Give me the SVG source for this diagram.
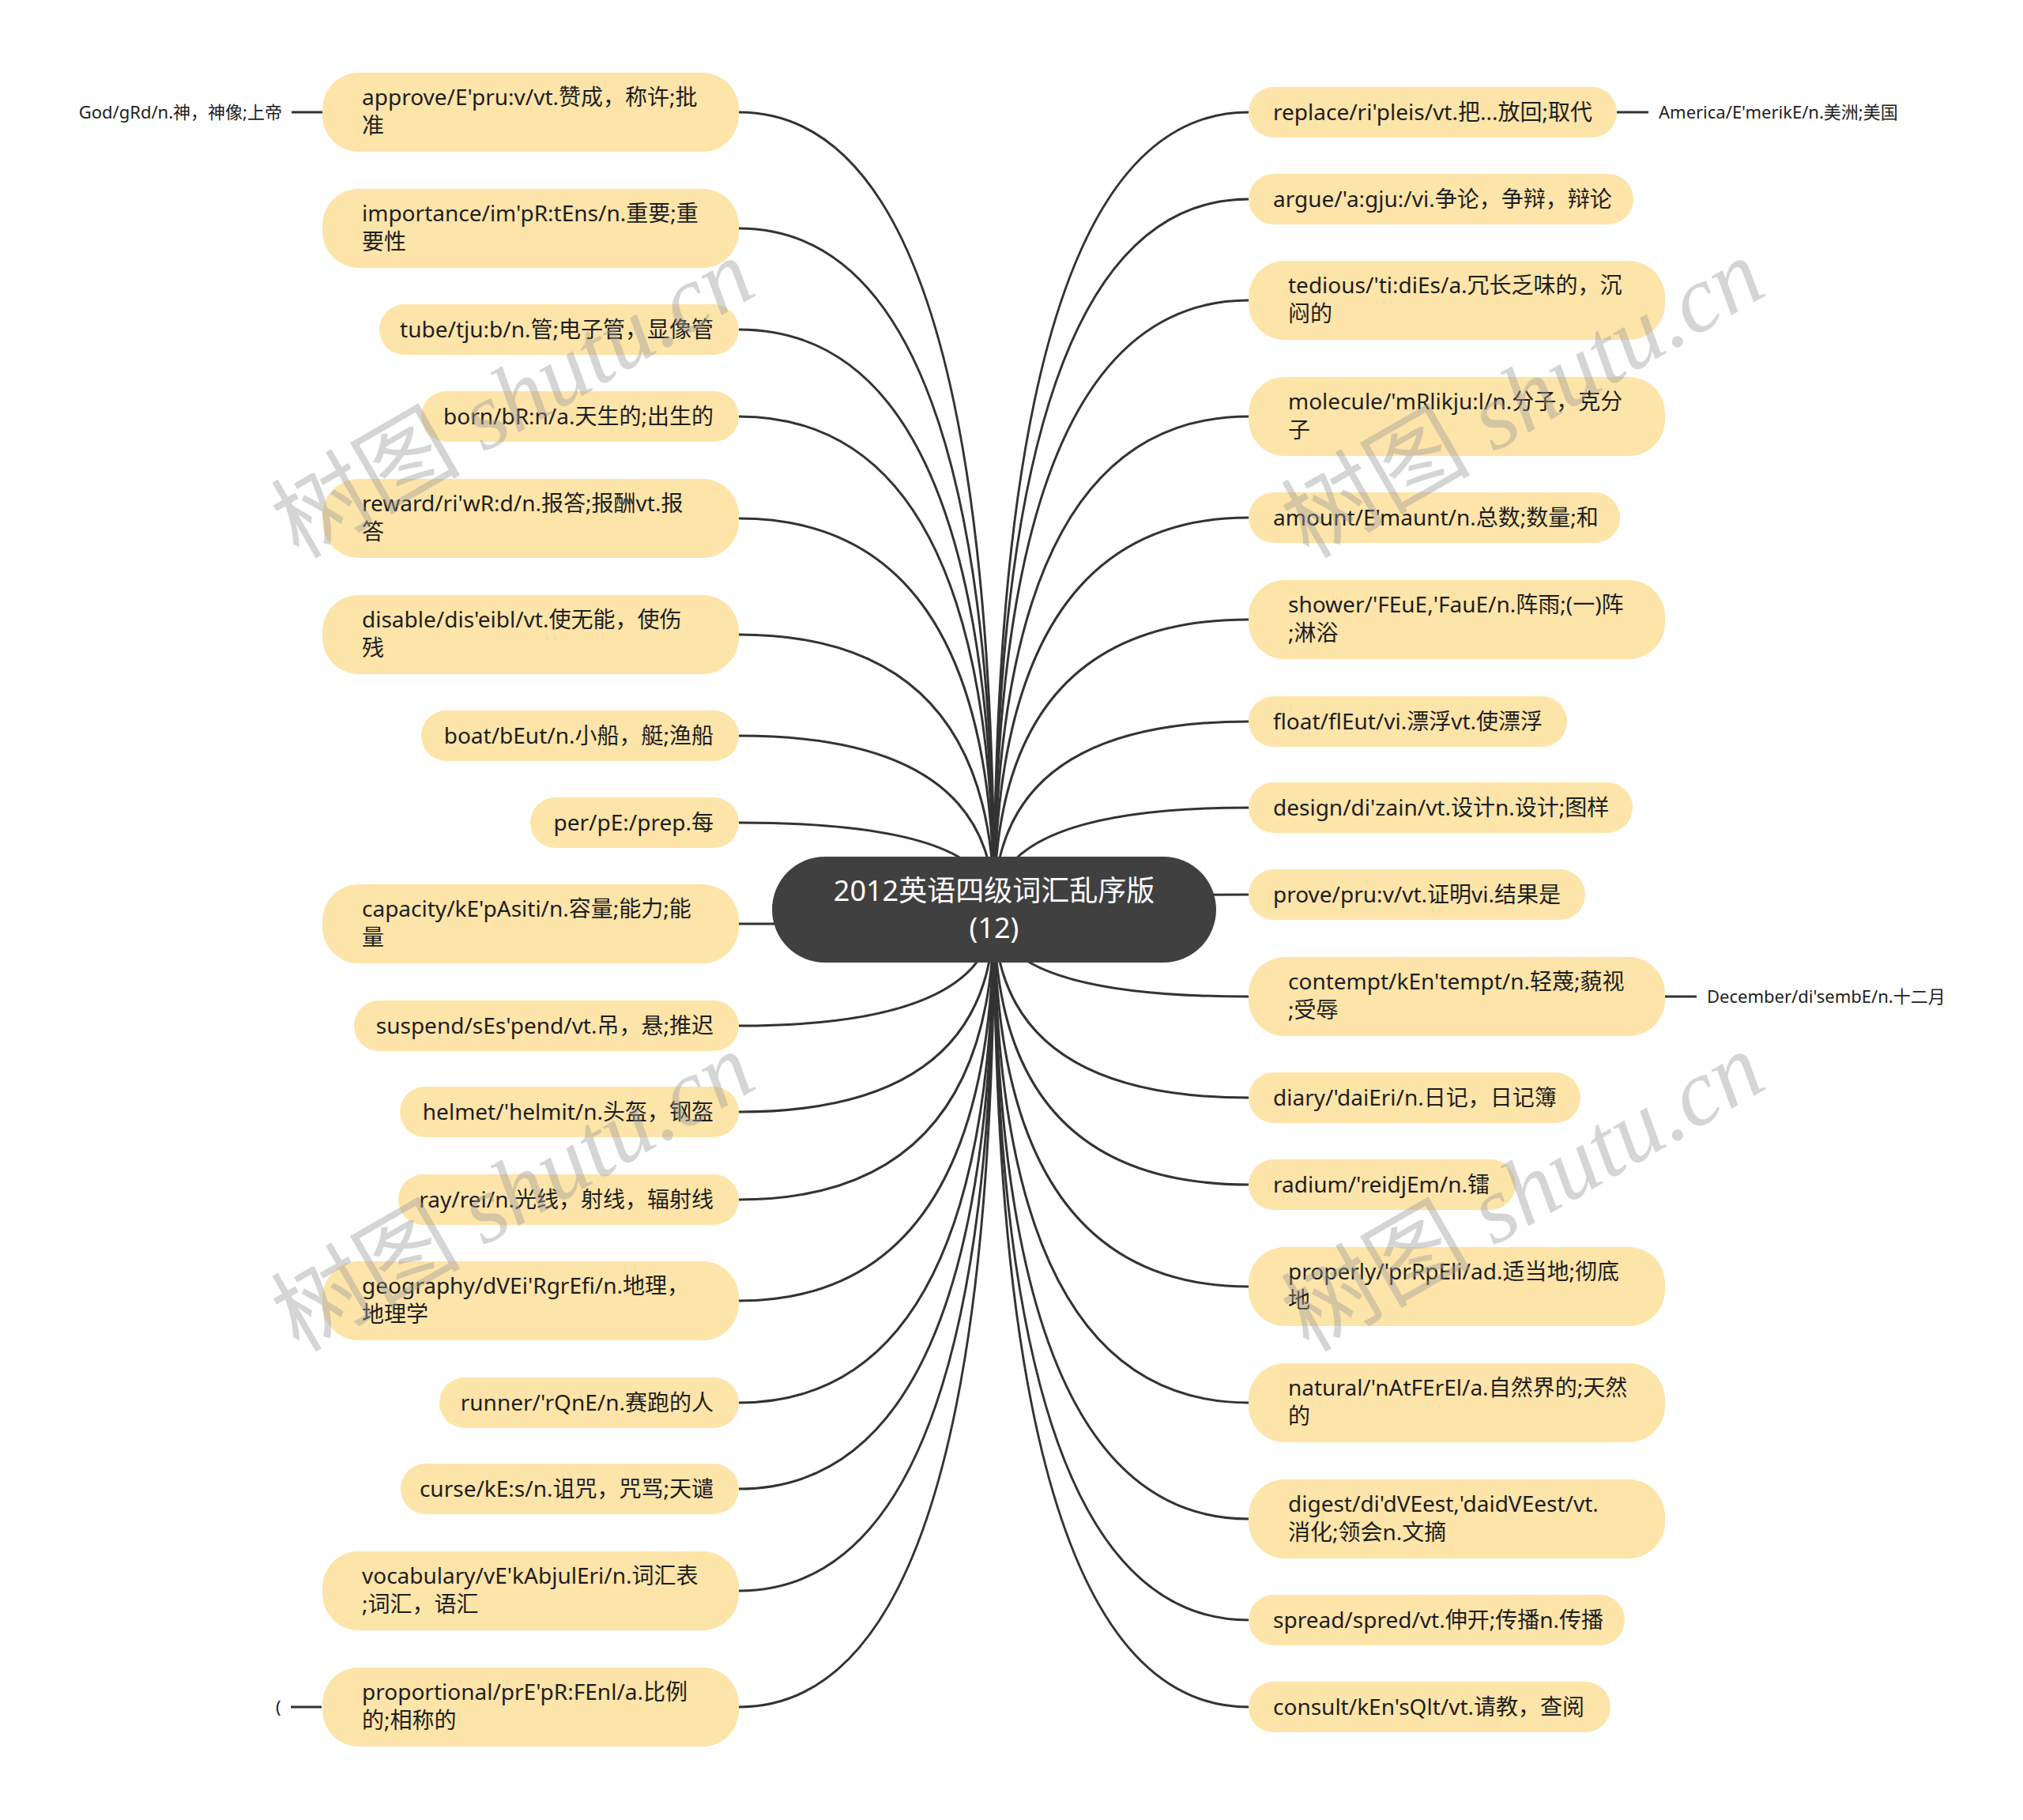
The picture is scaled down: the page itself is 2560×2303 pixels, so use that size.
<svg xmlns="http://www.w3.org/2000/svg" width="2560" height="2303" viewBox="0 0 2560 2303">
<style>
.bg{fill:#ffffff}
.lk{fill:none;stroke:#333333;stroke-width:3}
.nd{fill:#fde4a9}
.t{font-family:"Noto Sans","Noto Sans CJK SC",sans-serif;font-size:28px;fill:#1e1e1e}
.e{text-anchor:end}
.leaf{font-family:"Noto Sans","Noto Sans CJK SC",sans-serif;font-size:22px;fill:#1e1e1e}
.ctr{fill:#404040}
.ct{font-family:"Noto Sans","Noto Sans CJK SC",sans-serif;font-size:36px;fill:#ffffff;text-anchor:middle}
.wm{font-family:"Liberation Serif","Noto Sans CJK SC",serif;font-size:120px;fill:#9a9a9a;fill-opacity:0.42}
</style>
<rect class="bg" x="0" y="0" width="2560" height="2303"/>
<g id="connectors">
<path class="lk" d="M935 142 Q1258 142 1258 1151"/>
<path class="lk" d="M935 289 Q1258 289 1258 1151"/>
<path class="lk" d="M935 417 Q1258 417 1258 1151"/>
<path class="lk" d="M935 527 Q1258 527 1258 1151"/>
<path class="lk" d="M935 656 Q1258 656 1258 1151"/>
<path class="lk" d="M935 803 Q1258 803 1258 1151"/>
<path class="lk" d="M935 931 Q1258 931 1258 1151"/>
<path class="lk" d="M935 1041 Q1258 1041 1258 1151"/>
<path class="lk" d="M935 1169 Q1258 1169 1258 1151"/>
<path class="lk" d="M935 1298 Q1258 1298 1258 1151"/>
<path class="lk" d="M935 1407 Q1258 1407 1258 1151"/>
<path class="lk" d="M935 1518 Q1258 1518 1258 1151"/>
<path class="lk" d="M935 1646 Q1258 1646 1258 1151"/>
<path class="lk" d="M935 1775 Q1258 1775 1258 1151"/>
<path class="lk" d="M935 1884 Q1258 1884 1258 1151"/>
<path class="lk" d="M935 2013 Q1258 2013 1258 1151"/>
<path class="lk" d="M935 2160 Q1258 2160 1258 1151"/>
<path class="lk" d="M1580 142 Q1258 142 1258 1151"/>
<path class="lk" d="M1580 252 Q1258 252 1258 1151"/>
<path class="lk" d="M1580 380 Q1258 380 1258 1151"/>
<path class="lk" d="M1580 527 Q1258 527 1258 1151"/>
<path class="lk" d="M1580 655 Q1258 655 1258 1151"/>
<path class="lk" d="M1580 784 Q1258 784 1258 1151"/>
<path class="lk" d="M1580 913 Q1258 913 1258 1151"/>
<path class="lk" d="M1580 1022 Q1258 1022 1258 1151"/>
<path class="lk" d="M1580 1132 Q1258 1132 1258 1151"/>
<path class="lk" d="M1580 1261 Q1258 1261 1258 1151"/>
<path class="lk" d="M1580 1389 Q1258 1389 1258 1151"/>
<path class="lk" d="M1580 1499 Q1258 1499 1258 1151"/>
<path class="lk" d="M1580 1628 Q1258 1628 1258 1151"/>
<path class="lk" d="M1580 1775 Q1258 1775 1258 1151"/>
<path class="lk" d="M1580 1922 Q1258 1922 1258 1151"/>
<path class="lk" d="M1580 2050 Q1258 2050 1258 1151"/>
<path class="lk" d="M1580 2160 Q1258 2160 1258 1151"/>
<path class="lk" d="M369 142 H408"/>
<path class="lk" d="M2046 142 H2086"/>
<path class="lk" d="M2107 1261 H2147"/>
<path class="lk" d="M368 2160 H407"/>
</g>
<g id="center">
<rect class="ctr" x="977" y="1084" width="562" height="134" rx="67"/>
<text class="ct" x="1258" y="1140">2012英语四级词汇乱序版</text>
<text class="ct" x="1258" y="1187">(12)</text>
</g>
<g id="n-approve"><rect class="nd" x="408" y="92" width="527" height="100" rx="46"/><text class="t" x="458" y="133">approve/E'pru:v/vt.赞成，称许;批</text><text class="t" x="458" y="169">准</text></g>
<g id="n-importance"><rect class="nd" x="408" y="239" width="527" height="100" rx="46"/><text class="t" x="458" y="280">importance/im'pR:tEns/n.重要;重</text><text class="t" x="458" y="316">要性</text></g>
<g id="n-tube"><rect class="nd" x="480" y="385" width="455" height="64" rx="32"/><text class="t e" x="903" y="427">tube/tju:b/n.管;电子管，显像管</text></g>
<g id="n-born"><rect class="nd" x="533" y="495" width="402" height="64" rx="32"/><text class="t e" x="903" y="537">born/bR:n/a.天生的;出生的</text></g>
<g id="n-reward"><rect class="nd" x="408" y="606" width="527" height="100" rx="46"/><text class="t" x="458" y="647">reward/ri'wR:d/n.报答;报酬vt.报</text><text class="t" x="458" y="683">答</text></g>
<g id="n-disable"><rect class="nd" x="408" y="753" width="527" height="100" rx="46"/><text class="t" x="458" y="794">disable/dis'eibl/vt.使无能，使伤</text><text class="t" x="458" y="830">残</text></g>
<g id="n-boat"><rect class="nd" x="533" y="899" width="402" height="64" rx="32"/><text class="t e" x="903" y="941">boat/bEut/n.小船，艇;渔船</text></g>
<g id="n-per"><rect class="nd" x="671" y="1009" width="264" height="64" rx="32"/><text class="t e" x="903" y="1051">per/pE:/prep.每</text></g>
<g id="n-capacity"><rect class="nd" x="408" y="1119" width="527" height="100" rx="46"/><text class="t" x="458" y="1160">capacity/kE'pAsiti/n.容量;能力;能</text><text class="t" x="458" y="1196">量</text></g>
<g id="n-suspend"><rect class="nd" x="448" y="1266" width="487" height="64" rx="32"/><text class="t e" x="903" y="1308">suspend/sEs'pend/vt.吊，悬;推迟</text></g>
<g id="n-helmet"><rect class="nd" x="506" y="1375" width="429" height="64" rx="32"/><text class="t e" x="903" y="1417">helmet/'helmit/n.头盔，钢盔</text></g>
<g id="n-ray"><rect class="nd" x="504" y="1486" width="431" height="64" rx="32"/><text class="t e" x="903" y="1528">ray/rei/n.光线，射线，辐射线</text></g>
<g id="n-geography"><rect class="nd" x="408" y="1596" width="527" height="100" rx="46"/><text class="t" x="458" y="1637">geography/dVEi'RgrEfi/n.地理，</text><text class="t" x="458" y="1673">地理学</text></g>
<g id="n-runner"><rect class="nd" x="556" y="1743" width="379" height="64" rx="32"/><text class="t e" x="903" y="1785">runner/'rQnE/n.赛跑的人</text></g>
<g id="n-curse"><rect class="nd" x="507" y="1852" width="428" height="64" rx="32"/><text class="t e" x="903" y="1894">curse/kE:s/n.诅咒，咒骂;天谴</text></g>
<g id="n-vocabulary"><rect class="nd" x="408" y="1963" width="527" height="100" rx="46"/><text class="t" x="458" y="2004">vocabulary/vE'kAbjulEri/n.词汇表</text><text class="t" x="458" y="2040">;词汇，语汇</text></g>
<g id="n-proportional"><rect class="nd" x="408" y="2110" width="527" height="100" rx="46"/><text class="t" x="458" y="2151">proportional/prE'pR:FEnl/a.比例</text><text class="t" x="458" y="2187">的;相称的</text></g>
<g id="n-replace"><rect class="nd" x="1580" y="110" width="466" height="64" rx="32"/><text class="t" x="1611" y="152">replace/ri'pleis/vt.把...放回;取代</text></g>
<g id="n-argue"><rect class="nd" x="1580" y="220" width="487" height="64" rx="32"/><text class="t" x="1611" y="262">argue/'a:gju:/vi.争论，争辩，辩论</text></g>
<g id="n-tedious"><rect class="nd" x="1580" y="330" width="527" height="100" rx="46"/><text class="t" x="1630" y="371">tedious/'ti:diEs/a.冗长乏味的，沉</text><text class="t" x="1630" y="407">闷的</text></g>
<g id="n-molecule"><rect class="nd" x="1580" y="477" width="527" height="100" rx="46"/><text class="t" x="1630" y="518">molecule/'mRlikju:l/n.分子，克分</text><text class="t" x="1630" y="554">子</text></g>
<g id="n-amount"><rect class="nd" x="1580" y="623" width="470" height="64" rx="32"/><text class="t" x="1611" y="665">amount/E'maunt/n.总数;数量;和</text></g>
<g id="n-shower"><rect class="nd" x="1580" y="734" width="527" height="100" rx="46"/><text class="t" x="1630" y="775">shower/'FEuE,'FauE/n.阵雨;(一)阵</text><text class="t" x="1630" y="811">;淋浴</text></g>
<g id="n-float"><rect class="nd" x="1580" y="881" width="403" height="64" rx="32"/><text class="t" x="1611" y="923">float/flEut/vi.漂浮vt.使漂浮</text></g>
<g id="n-design"><rect class="nd" x="1580" y="990" width="486" height="64" rx="32"/><text class="t" x="1611" y="1032">design/di'zain/vt.设计n.设计;图样</text></g>
<g id="n-prove"><rect class="nd" x="1580" y="1100" width="426" height="64" rx="32"/><text class="t" x="1611" y="1142">prove/pru:v/vt.证明vi.结果是</text></g>
<g id="n-contempt"><rect class="nd" x="1580" y="1211" width="527" height="100" rx="46"/><text class="t" x="1630" y="1252">contempt/kEn'tempt/n.轻蔑;藐视</text><text class="t" x="1630" y="1288">;受辱</text></g>
<g id="n-diary"><rect class="nd" x="1580" y="1357" width="420" height="64" rx="32"/><text class="t" x="1611" y="1399">diary/'daiEri/n.日记，日记簿</text></g>
<g id="n-radium"><rect class="nd" x="1580" y="1467" width="338" height="64" rx="32"/><text class="t" x="1611" y="1509">radium/'reidjEm/n.镭</text></g>
<g id="n-properly"><rect class="nd" x="1580" y="1578" width="527" height="100" rx="46"/><text class="t" x="1630" y="1619">properly/'prRpEli/ad.适当地;彻底</text><text class="t" x="1630" y="1655">地</text></g>
<g id="n-natural"><rect class="nd" x="1580" y="1725" width="527" height="100" rx="46"/><text class="t" x="1630" y="1766">natural/'nAtFErEl/a.自然界的;天然</text><text class="t" x="1630" y="1802">的</text></g>
<g id="n-digest"><rect class="nd" x="1580" y="1872" width="527" height="100" rx="46"/><text class="t" x="1630" y="1913">digest/di'dVEest,'daidVEest/vt.</text><text class="t" x="1630" y="1949">消化;领会n.文摘</text></g>
<g id="n-spread"><rect class="nd" x="1580" y="2018" width="476" height="64" rx="32"/><text class="t" x="1611" y="2060">spread/spred/vt.伸开;传播n.传播</text></g>
<g id="n-consult"><rect class="nd" x="1580" y="2128" width="458" height="64" rx="32"/><text class="t" x="1611" y="2170">consult/kEn'sQlt/vt.请教，查阅</text></g>
<g id="leaf-god"><text class="leaf e" x="357" y="150">God/gRd/n.神，神像;上帝</text></g>
<g id="leaf-america"><text class="leaf" x="2099" y="150">America/E'merikE/n.美洲;美国</text></g>
<g id="leaf-december"><text class="leaf" x="2160" y="1269">December/di'sembE/n.十二月</text></g>
<g id="leaf-paren"><text class="leaf" x="349" y="2168">(</text></g>
<g id="watermarks">
<text class="wm" transform="translate(378 708) rotate(-30)">树图 <tspan font-style="italic">shutu.cn</tspan></text>
<text class="wm" transform="translate(1656 708) rotate(-30)">树图 <tspan font-style="italic">shutu.cn</tspan></text>
<text class="wm" transform="translate(378 1712) rotate(-30)">树图 <tspan font-style="italic">shutu.cn</tspan></text>
<text class="wm" transform="translate(1656 1712) rotate(-30)">树图 <tspan font-style="italic">shutu.cn</tspan></text>
</g>
</svg>
